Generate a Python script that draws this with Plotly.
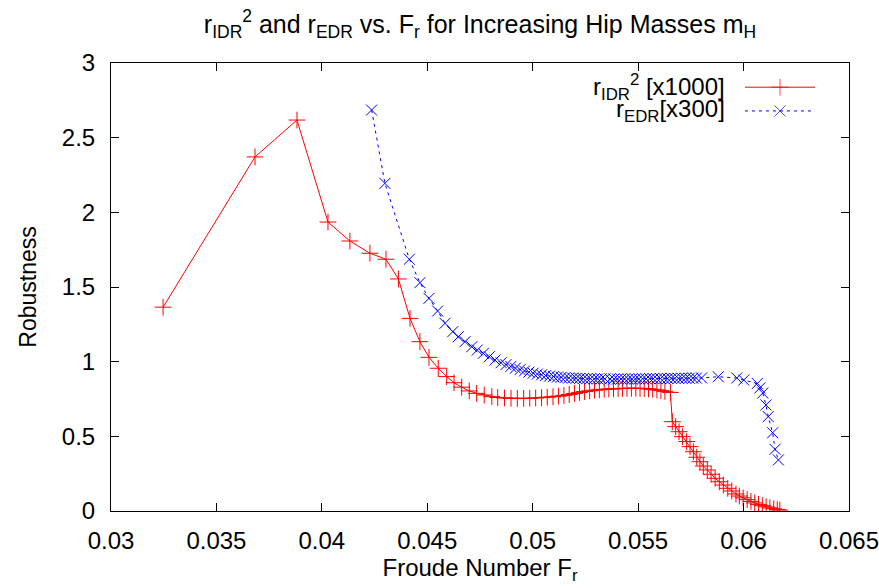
import plotly.graph_objects as go

# ---------------- data ----------------
red_fr = [0.03247, 0.03683, 0.03882, 0.04029, 0.04133, 0.04228, 0.04304, 0.04363, 0.04418, 0.04465,
          0.04508, 0.04552, 0.04592, 0.04627, 0.04663, 0.04699, 0.04734, 0.04770, 0.04806, 0.04834,
          0.04866, 0.04897, 0.04927, 0.04957, 0.04986, 0.05014, 0.05042, 0.05069, 0.05096, 0.05122,
          0.05148, 0.05173, 0.05198, 0.05222, 0.05246, 0.05270, 0.05293, 0.05316, 0.05339, 0.05361,
          0.05383, 0.05405, 0.05426, 0.05447, 0.05468, 0.05489, 0.05509, 0.05529, 0.05549, 0.05569,
          0.05589, 0.05608, 0.05627, 0.05653,
          0.05662, 0.05678, 0.05694, 0.05710, 0.05730, 0.05746, 0.05762, 0.05778, 0.05793, 0.05809,
          0.05828, 0.05846, 0.05865, 0.05885, 0.05904, 0.05925, 0.05944, 0.05964, 0.05980, 0.05998,
          0.06017, 0.06035, 0.06053, 0.06071, 0.06089, 0.06107, 0.06125, 0.06143, 0.06160, 0.06172]
red_val = [1.365, 2.371, 2.618, 1.935, 1.808, 1.726, 1.686, 1.554, 1.290, 1.134,
           1.029, 0.956, 0.900, 0.859, 0.829, 0.804, 0.788, 0.777, 0.766, 0.760,
           0.757, 0.755, 0.754, 0.754, 0.755, 0.757, 0.759, 0.762, 0.765, 0.769,
           0.774, 0.780, 0.787, 0.794, 0.800, 0.805, 0.809, 0.812, 0.815, 0.817,
           0.819, 0.820, 0.821, 0.822, 0.822, 0.822, 0.821, 0.820, 0.818, 0.815,
           0.811, 0.806, 0.801, 0.794,
           0.598, 0.565, 0.531, 0.498, 0.465, 0.431, 0.397, 0.360, 0.330, 0.301,
           0.275, 0.246, 0.219, 0.196, 0.174, 0.152, 0.134, 0.114, 0.100, 0.088,
           0.076, 0.064, 0.054, 0.044, 0.036, 0.028, 0.021, 0.015, 0.010, 0.006]

blue_fr = [0.04236, 0.04299, 0.04415, 0.04465, 0.04508, 0.04549, 0.04584, 0.04621, 0.04647, 0.04679,
           0.04711, 0.04737, 0.04766, 0.04794, 0.04821, 0.04850, 0.04873, 0.04896, 0.04918, 0.04940,
           0.04961, 0.04982, 0.05002, 0.05022, 0.05042, 0.05061, 0.05080, 0.05099, 0.05117, 0.05135,
           0.05153, 0.05171, 0.05189, 0.05206, 0.05223, 0.05240, 0.05257, 0.05274, 0.05291, 0.05308,
           0.05325, 0.05342, 0.05367, 0.05385, 0.05402, 0.05419, 0.05436, 0.05453, 0.05470, 0.05487,
           0.05504, 0.05521, 0.05538, 0.05555, 0.05572, 0.05589, 0.05606, 0.05623, 0.05640, 0.05657,
           0.05674, 0.05691, 0.05708, 0.05725, 0.05742, 0.05759, 0.05776, 0.05801,
           0.05880, 0.05968, 0.06001, 0.06065, 0.06077, 0.06091, 0.06106, 0.06117, 0.06138, 0.06149,
           0.06165]
blue_val = [2.685, 2.194, 1.686, 1.529, 1.424, 1.339, 1.257, 1.201, 1.167, 1.134,
            1.100, 1.078, 1.056, 1.033, 1.011, 0.993, 0.980, 0.968, 0.957, 0.947,
            0.938, 0.930, 0.923, 0.917, 0.912, 0.907, 0.903, 0.900, 0.897, 0.895,
            0.893, 0.891, 0.890, 0.889, 0.888, 0.887, 0.886, 0.886, 0.885, 0.885,
            0.885, 0.885, 0.884, 0.884, 0.884, 0.884, 0.884, 0.884, 0.884, 0.885,
            0.885, 0.885, 0.885, 0.886, 0.886, 0.886, 0.887, 0.887, 0.887, 0.888,
            0.888, 0.888, 0.889, 0.889, 0.889, 0.890, 0.890, 0.891,
            0.899, 0.891, 0.877, 0.854, 0.824, 0.790, 0.710, 0.632, 0.524, 0.413,
            0.342]

x_ticks = [0.03, 0.035, 0.04, 0.045, 0.05, 0.055, 0.06, 0.065]
x_tick_labels = ["0.03", "0.035", "0.04", "0.045", "0.05", "0.055", "0.06", "0.065"]
y_ticks = [0, 0.5, 1, 1.5, 2, 2.5, 3]
y_tick_labels = ["0", "0.5", "1", "1.5", "2", "2.5", "3"]

red_label = "r<sub>IDR</sub><sup>2</sup> [x1000]"
blue_label = "r<sub>EDR</sub>[x300]"
title_text = ("r<sub>IDR</sub><sup>2</sup> and r<sub>EDR</sub> vs. F<sub>r</sub> "
              "for Increasing Hip Masses m<sub>H</sub>")

RED = "#ff0000"
BLUE = "#0000ff"
FONT = "Liberation Sans, Arial, sans-serif"

fig = go.Figure()
fig.add_trace(go.Scatter(
    x=red_fr, y=red_val, mode="lines+markers", name=red_label, showlegend=False,
    line=dict(color=RED, width=1),
    marker=dict(symbol="cross-thin-open", size=12, color=RED, line=dict(color=RED, width=1)),
))
fig.add_trace(go.Scatter(
    x=blue_fr, y=blue_val, mode="lines+markers", name=blue_label, showlegend=False,
    line=dict(color=BLUE, width=1, dash="3px,4px"),
    marker=dict(symbol="x-thin-open", size=11, color=BLUE, line=dict(color=BLUE, width=1)),
))

# ---- manual gnuplot-style key (text left, sample right) on an overlay axis ----
key_rows = [(0.946, red_label, RED, "solid", "cross-thin-open", 12),
            (0.893, blue_label, BLUE, "3px,4px", "x-thin-open", 11)]
for ky, lbl, col, dash, sym, sz in key_rows:
    fig.add_trace(go.Scatter(
        x=[0.859, 0.9065, 0.954], y=[ky, ky, ky], xaxis="x2", yaxis="y2",
        mode="lines+markers", showlegend=False, hoverinfo="skip",
        line=dict(color=col, width=1, dash=dash),
        marker=dict(symbol=sym, size=[0, sz, 0], color=col, line=dict(color=col, width=1)),
    ))
    fig.add_annotation(xref="paper", yref="paper", x=0.8347, y=ky, xanchor="right",
                       yanchor="middle", text=lbl, showarrow=False,
                       font=dict(family=FONT, size=24, color="black"))

axis_common = dict(showline=True, linecolor="black", linewidth=1, mirror="ticks",
                   ticks="inside", ticklen=8, tickcolor="black", tickwidth=1,
                   showgrid=False, zeroline=False, automargin=False,
                   ticklabeloverflow="allow",
                   tickfont=dict(family=FONT, size=24, color="black"))

fig.update_layout(
    width=879, height=588,
    margin=dict(l=111, r=30, t=63, b=77, autoexpand=False),
    paper_bgcolor="white", plot_bgcolor="white",
    title=dict(text=title_text, x=111 / 879 + 0.5 * 738 / 879, xanchor="center",
               y=1 - 24 / 588, yanchor="middle", automargin=False,
               font=dict(family=FONT, size=25, color="black")),
    xaxis=dict(range=[0.03, 0.065], tickvals=x_ticks, ticktext=x_tick_labels,
               title=dict(text="Froude Number F<sub>r</sub>", standoff=6,
                          font=dict(family=FONT, size=24, color="black")),
               ticklabelstandoff=8, **axis_common),
    yaxis=dict(range=[0, 3], tickvals=y_ticks, ticktext=y_tick_labels,
               title=dict(text="Robustness", standoff=18,
                          font=dict(family=FONT, size=23, color="black")),
               ticklabelstandoff=10, **axis_common),
    xaxis2=dict(overlaying="x", range=[0, 1], visible=False),
    yaxis2=dict(overlaying="y", range=[0, 1], visible=False),
    showlegend=False,
)

fig.write_html("out.html")
